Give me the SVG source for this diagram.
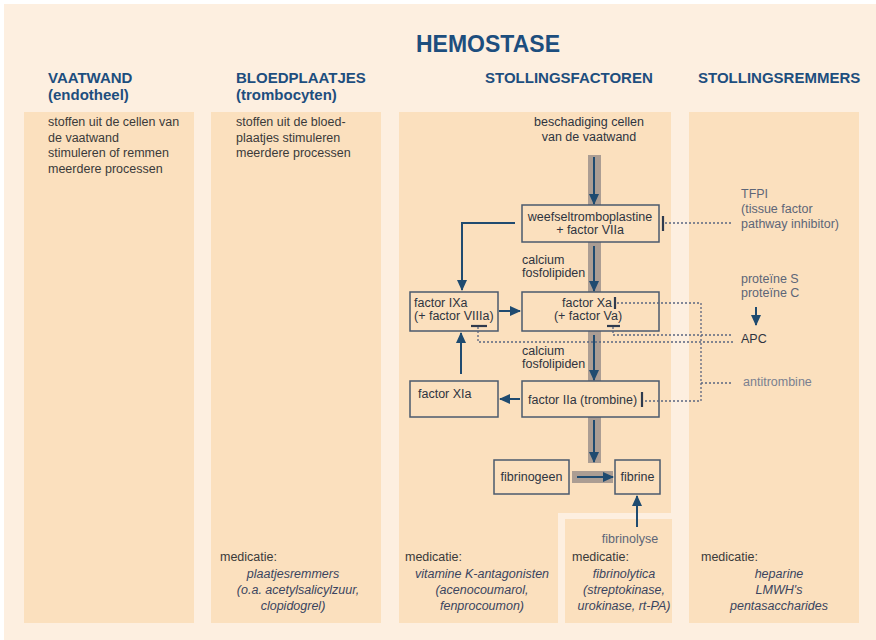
<svg xmlns="http://www.w3.org/2000/svg" width="876" height="640" viewBox="0 0 876 640">
<defs>
<style>
text{font-family:"Liberation Sans",Arial,sans-serif;}
.title{font-size:23px;font-weight:bold;fill:#1d4e7e;}
.hdr{font-size:15px;font-weight:bold;fill:#1d4e7e;}
.body{font-size:12.5px;fill:#3a3a3a;}
.fc{font-size:12.5px;fill:#2e3440;}
.inh{font-size:12.5px;fill:#5d6678;}
.inh2{font-size:12.5px;fill:#7a8090;}
.med{font-size:12.5px;fill:#3a3a3a;}
.it{font-size:12.5px;font-style:italic;fill:#3a4560;text-anchor:middle;}
.col{fill:#fbe0be;}
.box{fill:none;stroke:#4b5a6e;stroke-width:1.5;}
.band{fill:#ab9d93;}
.arr{fill:none;stroke:#1f4b70;stroke-width:2;marker-end:url(#ah);}
.dot{fill:none;stroke:#5a6580;stroke-width:1.3;stroke-dasharray:2 2;}
.bar{stroke:#2e3a4e;stroke-width:2.2;}
</style>
<marker id="ah" markerUnits="userSpaceOnUse" markerWidth="11" markerHeight="10" refX="10" refY="5" orient="auto">
<path d="M0,0 L11,5 L0,10 z" fill="#1f4b70"/>
</marker>
</defs>
<rect x="0" y="0" width="876" height="640" fill="#ffffff"/>
<rect x="4" y="4" width="872" height="636" fill="#fdefe0"/>
<g id="columns">
<rect class="col" x="24" y="112" width="170" height="511"/>
<rect class="col" x="211" y="112" width="170" height="511"/>
<polygon class="col" points="399,112 671,112 671,513 558,513 558,623 399,623"/>
<rect class="col" x="565" y="519" width="107" height="104"/>
<rect class="col" x="689" y="112" width="170" height="511"/>
</g>
<text class="title" x="488" y="52" text-anchor="middle">HEMOSTASE</text>
<g id="headers">
<text class="hdr" x="48" y="83">VAATWAND</text>
<text class="hdr" x="48" y="100">(endotheel)</text>
<text class="hdr" x="236" y="83">BLOEDPLAATJES</text>
<text class="hdr" x="236" y="100">(trombocyten)</text>
<text class="hdr" x="485" y="83">STOLLINGSFACTOREN</text>
<text class="hdr" x="698" y="83">STOLLINGSREMMERS</text>
</g>
<g id="col1-text">
<text class="body" x="48" y="126">stoffen uit de cellen van</text>
<text class="body" x="48" y="141.5">de vaatwand</text>
<text class="body" x="48" y="157">stimuleren of remmen</text>
<text class="body" x="48" y="172.5">meerdere processen</text>
</g>
<g id="col2-text">
<text class="body" x="236" y="126">stoffen uit de bloed-</text>
<text class="body" x="236" y="141.5">plaatjes stimuleren</text>
<text class="body" x="236" y="157">meerdere processen</text>
</g>
<g id="bands">
<rect class="band" x="588" y="155" width="13" height="50"/>
<rect class="band" x="588" y="242" width="13" height="50"/>
<rect class="band" x="588" y="331" width="13" height="50"/>
<rect class="band" x="588" y="417" width="13" height="46"/>
<rect class="band" x="572" y="471" width="41" height="12"/>
</g>
<g id="start">
<text class="fc" x="589" y="126" text-anchor="middle">beschadiging cellen</text>
<text class="fc" x="589" y="141" text-anchor="middle">van de vaatwand</text>
</g>
<g id="node-vii">
<rect class="box" x="522" y="205" width="137" height="37"/>
<text class="fc" x="590" y="221" text-anchor="middle">weefseltromboplastine</text>
<text class="fc" x="590" y="234" text-anchor="middle">+ factor VIIa</text>
</g>
<g id="label-ca1">
<text class="fc" x="522" y="264">calcium</text>
<text class="fc" x="522" y="277">fosfolipiden</text>
</g>
<g id="node-ixa">
<rect class="box" x="410" y="292" width="88" height="39"/>
<text class="fc" x="414" y="307">factor IXa</text>
<text class="fc" x="414" y="320">(+ factor VIIIa)</text>
</g>
<g id="node-xa">
<rect class="box" x="522" y="292" width="137" height="39"/>
<text class="fc" x="587" y="307" text-anchor="middle">factor Xa</text>
<text class="fc" x="588" y="320" text-anchor="middle">(+ factor Va)</text>
</g>
<g id="label-ca2">
<text class="fc" x="522" y="355">calcium</text>
<text class="fc" x="522" y="368">fosfolipiden</text>
</g>
<g id="node-xia">
<rect class="box" x="410" y="381" width="88" height="36"/>
<text class="fc" x="418" y="398">factor XIa</text>
</g>
<g id="node-iia">
<rect class="box" x="522" y="381" width="137" height="36"/>
<text class="fc" x="528" y="404">factor IIa (trombine)</text>
</g>
<g id="node-fibrinogeen">
<rect class="box" x="494" y="460" width="75" height="34"/>
<text class="fc" x="531.5" y="481" text-anchor="middle">fibrinogeen</text>
</g>
<g id="node-fibrine">
<rect class="box" x="615" y="460" width="45" height="34"/>
<text class="fc" x="637.5" y="481" text-anchor="middle">fibrine</text>
</g>
<g id="node-fibrinolyse">
<text class="inh" x="630" y="543" text-anchor="middle">fibrinolyse</text>
</g>
<g id="node-tfpi">
<text class="inh" x="741" y="198">TFPI</text>
<text class="inh" x="741" y="213">(tissue factor</text>
<text class="inh" x="741" y="228">pathway inhibitor)</text>
</g>
<g id="node-proteine">
<text class="inh" x="741" y="283">proteïne S</text>
<text class="inh" x="741" y="297">proteïne C</text>
</g>
<g id="node-apc">
<text class="fc" x="741" y="343">APC</text>
</g>
<g id="node-antitrombine">
<text class="inh2" x="743" y="386">antitrombine</text>
</g>
<g id="connectors">
<line class="arr" x1="594" y1="157" x2="594" y2="204"/>
<line class="arr" x1="594" y1="246" x2="594" y2="291"/>
<line class="arr" x1="594" y1="335" x2="594" y2="380"/>
<line class="arr" x1="594" y1="420" x2="594" y2="462"/>
<line class="arr" x1="577" y1="477" x2="613" y2="477"/>
<polyline class="arr" points="515,223 462,223 462,290"/>
<line class="arr" x1="499" y1="311" x2="520" y2="311"/>
<line class="arr" x1="461" y1="374" x2="461" y2="333"/>
<line class="arr" x1="520" y1="399" x2="500" y2="399"/>
<line class="arr" x1="637" y1="527" x2="637" y2="496"/>
<line class="arr" x1="756" y1="307" x2="756" y2="325"/>
<line class="bar" x1="663" y1="216" x2="663" y2="231"/>
<polyline class="dot" points="665,223 733,223"/>
<line class="bar" x1="615" y1="297" x2="615" y2="309"/>
<polyline class="dot" points="617,303 701,303 701,401 645,401"/>
<line class="bar" x1="642" y1="392" x2="642" y2="407"/>
<polyline class="dot" points="701,383 733,383"/>
<line class="bar" x1="607" y1="326" x2="620" y2="326"/>
<polyline class="dot" points="613,327 613,335 733,335"/>
<line class="bar" x1="471" y1="326" x2="487" y2="326"/>
<polyline class="dot" points="478,327 478,342 733,342"/>
</g>
<g id="medication">
<text class="med" x="220" y="561">medicatie:</text>
<text class="it" x="293" y="578">plaatjesremmers</text>
<text class="it" x="298" y="594">(o.a. acetylsalicylzuur,</text>
<text class="it" x="293" y="610">clopidogrel)</text>
<text class="med" x="405" y="561">medicatie:</text>
<text class="it" x="482" y="578">vitamine K-antagonisten</text>
<text class="it" x="482" y="594">(acenocoumarol,</text>
<text class="it" x="482" y="610">fenprocoumon)</text>
<text class="med" x="572" y="561">medicatie:</text>
<text class="it" x="624" y="578">fibrinolytica</text>
<text class="it" x="624" y="594">(streptokinase,</text>
<text class="it" x="624" y="610">urokinase, rt-PA)</text>
<text class="med" x="701" y="561">medicatie:</text>
<text class="it" x="779" y="578">heparine</text>
<text class="it" x="779" y="594">LMWH's</text>
<text class="it" x="779" y="610">pentasaccharides</text>
</g>
</svg>
